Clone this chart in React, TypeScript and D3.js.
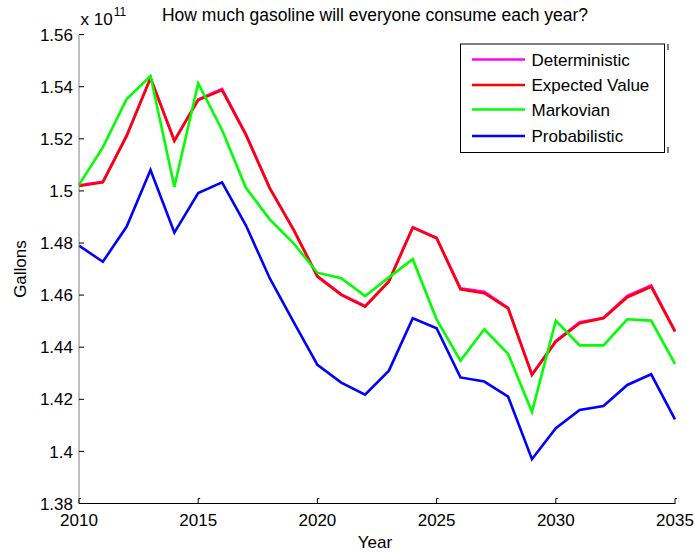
import React from "react";
import * as d3 from "d3";

const years = d3.range(2010, 2036);

const deterministic = [
  1.5022, 1.5035, 1.5213, 1.5434, 1.5194, 1.5351, 1.5391, 1.5218, 1.5012, 1.4852,
  1.4673, 1.4603, 1.4558, 1.4655, 1.4861, 1.4820, 1.4626, 1.4613, 1.4551, 1.4295,
  1.4424, 1.4496, 1.4513, 1.4597, 1.4637, 1.4463,
];
const expectedValue = [
  1.5019, 1.5033, 1.5211, 1.5432, 1.5192, 1.5349, 1.5387, 1.5215, 1.5010, 1.4850,
  1.4671, 1.4601, 1.4556, 1.4652, 1.4859, 1.4818, 1.4622, 1.4607, 1.4549, 1.4293,
  1.4421, 1.4492, 1.4511, 1.4592, 1.4632, 1.4460,
];
const markovian = [
  1.5023, 1.5167, 1.5353, 1.5441, 1.5016, 1.5413, 1.5234, 1.5012, 1.4891, 1.4799,
  1.4686, 1.4665, 1.4596, 1.4668, 1.4738, 1.4507, 1.4348, 1.4469, 1.4374, 1.4152,
  1.4502, 1.4407, 1.4407, 1.4507, 1.4502, 1.4336,
];
const probabilistic = [
  1.4790, 1.4728, 1.4863, 1.5080, 1.4840, 1.4992, 1.5033, 1.4868, 1.4665, 1.4497,
  1.4332, 1.4264, 1.4218, 1.4310, 1.4511, 1.4473, 1.4284, 1.4268, 1.4210, 1.3970,
  1.4089, 1.4159, 1.4174, 1.4255, 1.4296, 1.4123,
];

const seriesNames = ["Deterministic", "Expected Value", "Markovian", "Probabilistic"];
const seriesColors = ["#ff00ff", "#ff0000", "#00ff00", "#0000ff"];
const seriesData = [deterministic, expectedValue, markovian, probabilistic];

const xTicks = [2010, 2015, 2020, 2025, 2030, 2035];
const yTicks = [1.38, 1.4, 1.42, 1.44, 1.46, 1.48, 1.5, 1.52, 1.54, 1.56];
const yTickLabels = ["1.38", "1.4", "1.42", "1.44", "1.46", "1.48", "1.5", "1.52", "1.54", "1.56"];

const W = 695;
const H = 552;
const L = 79;
const R = 675;
const T = 34.6;
const B = 503.5;
const FONT = "'Liberation Sans', Arial, Helvetica, sans-serif";

export default function App() {
  const x = d3.scaleLinear().domain([2010, 2035]).range([L, R]);
  const y = d3.scaleLinear().domain([1.38, 1.56]).range([B, T]);
  const line = d3
    .line<number>()
    .x((_, i) => x(years[i]))
    .y((d) => y(d));

  const legX = 460.5;
  const legY = 44;
  const legW = 204;
  const legH = 108.5;
  const rowYs = [59.5, 85, 109.5, 136];

  return (
    <svg
      width={W}
      height={H}
      style={{ position: "absolute", left: 0, top: 0, background: "#fff" }}
      fontFamily={FONT}
    >
      <rect x={0} y={0} width={W} height={H} fill="#fff" />
      {/* lines */}
      <g fill="none" strokeLinejoin="miter" strokeWidth={2.6}>
        {seriesData.map((s, i) => (
          <path key={i} d={line(s) || ""} stroke={seriesColors[i]} />
        ))}
      </g>
      {/* axes */}
      <line x1={L} x2={R + 0.5} y1={B} y2={B} stroke="#000" strokeWidth={1} />
      <line x1={L} x2={L} y1={T} y2={B} stroke="#7f7f7f" strokeWidth={1} />
      {xTicks.map((t) => (
        <g key={t}>
          <line x1={x(t)} x2={x(t)} y1={B} y2={B - 5} stroke="#000" strokeWidth={1} />
          <line x1={x(t)} x2={x(t) + 2} y1={B - 5} y2={B - 5} stroke="#000" strokeWidth={1} />
          <text x={x(t)} y={526} textAnchor="middle" fontSize={17} fill="#000">
            {t}
          </text>
        </g>
      ))}
      {yTicks.map((t, i) => (
        <g key={t}>
          <line x1={L} x2={L + 5} y1={y(t)} y2={y(t)} stroke="#000" strokeWidth={1} />
          <text x={73} y={y(t)} dy="0.36em" textAnchor="end" fontSize={17} fill="#000">
            {yTickLabels[i]}
          </text>
        </g>
      ))}
      {/* exponent */}
      <text x={80.5} y={25} fontSize={17} fill="#000">
        x 10
        <tspan dx={1} dy={-9} fontSize={12}>
          11
        </tspan>
      </text>
      {/* title */}
      <text x={375} y={21} textAnchor="middle" fontSize={17.5} fill="#000">
        How much gasoline will everyone consume each year?
      </text>
      {/* axis labels */}
      <text x={375} y={548} textAnchor="middle" fontSize={17} fill="#000">
        Year
      </text>
      <text
        transform={`translate(25.5, ${(T + B) / 2}) rotate(-90)`}
        textAnchor="middle"
        fontSize={17}
        fill="#000"
      >
        Gallons
      </text>
      {/* legend */}
      <rect x={legX} y={legY} width={legW} height={legH} fill="#fff" stroke="#000" strokeWidth={1} />
      <line x1={668} x2={668} y1={44} y2={50} stroke="#000" strokeWidth={1} />
      <line x1={668} x2={668} y1={147} y2={153} stroke="#000" strokeWidth={1} />
      {seriesNames.map((n, i) => (
        <g key={n}>
          <line
            x1={472}
            x2={525}
            y1={rowYs[i]}
            y2={rowYs[i]}
            stroke={seriesColors[i]}
            strokeWidth={2.6}
          />
          <text x={531.5} y={rowYs[i]} dy="0.36em" fontSize={17} fill="#000">
            {n}
          </text>
        </g>
      ))}
    </svg>
  );
}
